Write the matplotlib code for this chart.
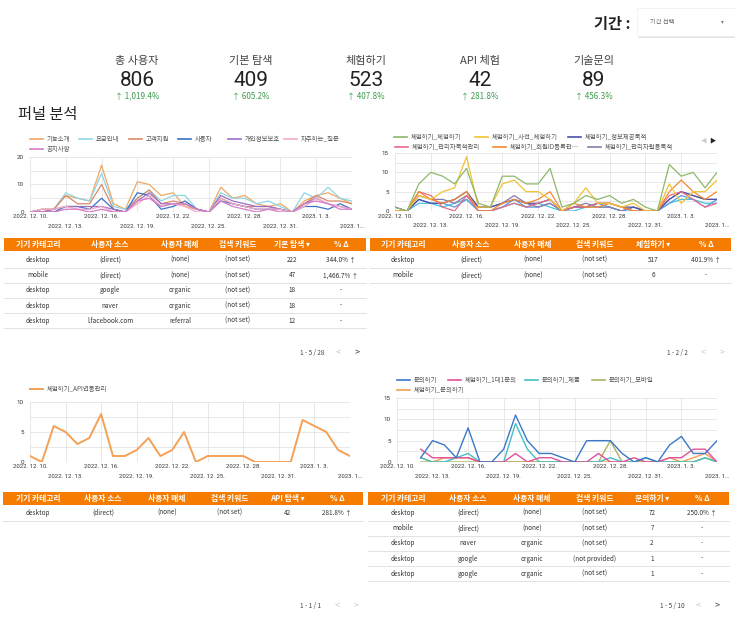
import numpy as np
import matplotlib
matplotlib.use('Agg')
import matplotlib.pyplot as plt
from matplotlib.patches import Rectangle
from matplotlib.lines import Line2D
import pandas as pd

plt.rcParams['font.family'] = ['Noto Sans CJK KR', 'DejaVu Sans']

W, H = 735, 622
nan = np.nan

# ---------------- data ----------------
dates = pd.date_range('2022-12-10', '2023-01-06', freq='D')
tick_idx = [0, 3, 6, 9, 12, 15, 18, 21, 24, 27]
tick_labels = ["2022. 12. 10.", "2022. 12. 13.", "2022. 12. 16.", "2022. 12. 19.",
               "2022. 12. 22.", "2022. 12. 25.", "2022. 12. 28.", "2022. 12. 31.",
               "2023. 1. 3.", "2023. 1…"]

kpi_titles = ["총 사용자", "기본 탐색", "체험하기", "API 체험", "기술문의"]
kpi_values = ["806", "409", "523", "42", "89"]
kpi_changes = ["1,019.4%", "605.2%", "407.8%", "281.8%", "456.3%"]

# top-left chart (기본 탐색 pages)
tl_names = ["기능소개", "요금안내", "고객지원", "사용자", "개인정보보호", "자주하는_질문", "공지사항"]
tl_기능소개 = [0, 0, 1, 6, 5, 4, 17, 3, 1, 11, 10, 6, 7, 2, 1, 0, 9, 5, 6, 3, 2, 3, 0, 4, 6, 7, 5, 3]
tl_요금안내 = [0, 1, 1, 7, 5, 4, 14, 2, 1, 5, 8, 4, 6, 6, 1, 0, 7, 5, 5, 3, 4, 2, 0, 7, 5, 9, 5, 4]
tl_고객지원 = [0, 1, 1, 6, 3, 3, 10, 1, 0, 5, 8, 3, 4, 3, 1, 0, 5, 3, 2, 2, 2, 1, 0, 3, 6, 4, 4, 3]
tl_사용자 = [0, 0, 0, 2, 2, 1, 5, 1, 0, 7, 6, 1, 2, 4, 1, 0, 4, 3, 2, 1, 1, 1, 0, 2, 2, 1, 3, 1]
tl_개인정보 = [0, 0, 1, 2, 2, 2, 2, 1, 0, 4, 7, 3, 3, 3, 1, 0, 6, 4, 3, 2, 2, 1, 0, 3, 5, 3, 2, 1]
tl_자주질문 = [0, 1, 1, 2, 1, 1, 2, 0, 0, 3, 6, 2, 3, 2, 0, 0, 5, 3, 2, 1, 1, 1, 0, 2, 5, 3, 2, 1]
tl_공지사항 = [0, 0, 0, 1, 1, 0, 1, 0, 0, 4, 5, 2, 3, 3, 1, 0, 4, 2, 1, 0, 1, 0, 0, 3, 4, 3, 1, 1]

# top-right chart (체험하기)
tr_names = ["체험하기_체험하기", "체험하기_사전_체험하기", "체험하기_정보제공목적",
            "체험하기_관리자목적관리", "체험하기_회원ID등록관…", "체험하기_관리자활용목적",
            "체험하기_기타1", "체험하기_기타2"]
tr_체험 = [1, 0, 7, 10, 9, 7, 11, 2, 1, 9, 9, 7, 7, 11, 1, 2, 4, 3, 4, 2, 3, 1, 0, 12, 9, 10, 6, 10]
tr_사전 = [0, 0, 4, 3, 5, 6, 14, 1, 1, 7, 8, 5, 5, 3, 0, 2, 6, 2, 2, 1, 2, 0, 0, 7, 2, 5, 5, 8]
tr_정보 = [1, 0, 3, 2, 2, 3, 5, 1, 1, 2, 3, 2, 2, 3, 0, 1, 1, 2, 2, 1, 1, 0, 0, 3, 5, 4, 3, 3]
tr_관리 = [0, 0, 5, 4, 1, 0, 4, 0, 0, 1, 2, 1, 2, 3, 0, 1, 1, 2, 2, 1, 0, 0, 0, 4, 5, 3, 1, 2]
tr_회원 = [0, 0, 5, 3, 2, 3, 5, 0, 0, 2, 3, 2, 3, 5, 0, 2, 1, 1, 2, 1, 0, 0, 0, 5, 8, 5, 3, 5]
tr_활용 = [0, 0, 4, 3, 3, 2, 4, 1, 1, 2, 4, 2, 1, 2, 0, 1, 2, 1, 1, 0, 1, 0, 0, 3, 5, 4, 3, 3]
tr_기타1 = [0, 0, 2, 2, 1, 2, 3, 0, 0, 1, 2, 1, 2, 1, 0, 0, 1, 1, 1, 0, 0, 0, 0, 2, 3, 3, 2, 2]
tr_기타2 = [0, 0, 3, 2, 2, 1, 3, 0, 0, 1, 3, 1, 1, 2, 0, 1, 1, 2, 1, 0, 1, 0, 0, 2, 4, 3, 1, 3]

# bottom-left chart (API)
bl_name = "체험하기_API연동관리"
bl_api = [1, 0, 6, 5, 3, 4, 8, 1, 1, 2, 4, 1, 2, 5, 0, 1, 1, 1, 1, 0, 0, 0, 0, 7, 6, 5, 2, 1]

# bottom-right chart (문의)
br_names = ["문의하기", "체험하기_1대1문의", "문의하기_제품", "문의하기_모바일", "체험하기_문의하기"]
br_문의 = [nan, nan, 1, 5, 4, 1, 8, 0, 0, 3, 11, 5, 2, 2, 1, 0, 5, 5, 5, 2, 0, 1, 0, 4, 6, 2, 2, 5]
br_1대1 = [nan, nan, 3, 1, 1, 1, 1, 0, 0, 0, 2, 0, 1, 1, 0, 0, 0, 2, 0, 0, 1, 0, 0, 1, 1, 3, 3, 0]
br_제품 = [nan, nan, 1, 0, 0, 1, 2, 0, 0, 0, 9, 3, 0, 0, 0, 0, 0, 0, 1, 0, 0, 1, 0, 0, 0, 0, 1, 0]
br_모바일 = [nan, nan, 0, 0, 0, 0, 0, 0, 0, 0, 0, 0, 0, 0, 0, 0, 0, 0, 5, 0, 0, 0, 0, 0, 0, 0, 1, 0]
br_체험문의 = [nan, nan, 1, 0, 1, 1, 1, 0, 0, 0, 0, 0, 0, 0, 0, 0, 0, 0, 0, 0, 0, 0, 0, 1, 0, 1, 2, 0]

# tables
tbl_cols = ["기기 카테고리", "사용자 소스", "사용자 매체", "검색 키워드"]
t1_metric = "기본 탐색 ▾"
t1_rows = [["desktop", "(direct)", "(none)", "(not set)", "222", "344.0% ↑"],
           ["mobile", "(direct)", "(none)", "(not set)", "47", "1,466.7% ↑"],
           ["desktop", "google", "organic", "(not set)", "18", "-"],
           ["desktop", "naver", "organic", "(not set)", "18", "-"],
           ["desktop", "l.facebook.com", "referral", "(not set)", "12", "-"]]
t2_metric = "체험하기 ▾"
t2_rows = [["desktop", "(direct)", "(none)", "(not set)", "517", "401.9% ↑"],
           ["mobile", "(direct)", "(none)", "(not set)", "6", "-"]]
t3_metric = "API 탐색 ▾"
t3_rows = [["desktop", "(direct)", "(none)", "(not set)", "42", "281.8% ↑"]]
t4_metric = "문의하기 ▾"
t4_rows = [["desktop", "(direct)", "(none)", "(not set)", "72", "250.0% ↑"],
           ["mobile", "(direct)", "(none)", "(not set)", "7", "-"],
           ["desktop", "naver", "organic", "(not set)", "2", "-"],
           ["desktop", "google", "organic", "(not provided)", "1", "-"],
           ["desktop", "google", "organic", "(not set)", "1", "-"]]

# ---------------- figure ----------------
fig = plt.figure(figsize=(W / 100, H / 100), dpi=100)
fig.patch.set_facecolor('white')


def fx(x):
    return x / W


def fy(y):
    return 1 - y / H


def ftext(x, y, s, **kw):
    kw.setdefault('va', 'center')
    fig.text(fx(x), fy(y), s, **kw)


def frect(x0, y0, x1, y1, **kw):
    fig.patches.append(Rectangle((fx(x0), fy(y1)), (x1 - x0) / W, (y1 - y0) / H,
                                 transform=fig.transFigure, **kw))


def fline(x0, y0, x1, y1, **kw):
    fig.add_artist(Line2D([fx(x0), fx(x1)], [fy(y0), fy(y1)], transform=fig.transFigure, **kw))


# header
ftext(630, 24, "기간 :", ha='right', fontsize=11, fontweight='bold', color='#222')
frect(638, 9, 736, 38, facecolor='#e4e4e4', edgecolor='none')
frect(637, 8, 735, 36, facecolor='white', edgecolor='#eeeeee', lw=0.5)
ftext(650, 22, "기간 선택", ha='left', fontsize=4.5, color='#666')
ftext(722, 22, "▾", ha='center', fontsize=4, color='#777')

kpi_x = [137, 251, 366, 480, 594]
for x, t, v, c in zip(kpi_x, kpi_titles, kpi_values, kpi_changes):
    ftext(x, 61, t, ha='center', fontsize=8, color='#444')
    ftext(x, 80, v, ha='center', fontsize=15, color='#222', family=['Roboto', 'DejaVu Sans'])
    ftext(x, 96, "↑ " + c, ha='center', fontsize=5.8, color='#3c9a4c')

ftext(18, 115, "퍼널 분석", ha='left', fontsize=11, color='#222')

x = np.arange(len(dates))


def make_chart(x0, x1, ytop, ybot, ymax, ylab, minor_step, series, lw):
    ax = fig.add_axes([fx(x0), fy(ybot), (x1 - x0) / W, (ybot - ytop) / H])
    for vals, c in series:
        ax.plot(x, vals, color=c, lw=lw, solid_joinstyle='round')
    ax.set_xlim(0, len(dates) - 1)
    ax.set_ylim(0, ymax)
    ax.set_yticks(ylab)
    ax.set_yticklabels([str(v) for v in ylab], fontsize=4.5, color='#333',
                       family=['Roboto', 'DejaVu Sans'])
    ax.set_yticks(np.arange(0, ymax + 0.01, minor_step), minor=True)
    ax.set_xticks(tick_idx)
    ax.set_xticklabels([])
    ax.tick_params(which='both', length=0, pad=4.5)
    ax.grid(True, which='both', color='#e4e4e4', lw=0.6)
    ax.set_axisbelow(True)
    for s in ax.spines.values():
        s.set_visible(False)
    for i, (t, lab) in enumerate(zip(tick_idx, tick_labels)):
        off = -3.6 if i % 2 == 0 else -10.1
        ax.annotate(lab, xy=(t, 0), xycoords=('data', 'axes fraction'),
                    xytext=(0, off), textcoords='offset points', ha='center', va='center',
                    fontsize=4.3, color='#333', family=['Roboto', 'DejaVu Sans'],
                    annotation_clip=False)
    return ax


def legend_item(lx, ly, color, label, lw=1.2):
    fline(lx, ly, lx + 13, ly, color=color, lw=lw)
    ftext(lx + 17, ly, label, ha='left', fontsize=4.6, color='#555')


# top-left chart
tl_colors = ['#f0a860', '#8ed6e6', '#d9886c', '#3b72c6', '#9b6fc6', '#f3a9c6', '#d67cc8']
tl_data = [tl_기능소개, tl_요금안내, tl_고객지원, tl_사용자, tl_개인정보, tl_자주질문, tl_공지사항]
make_chart(30, 352, 157, 212, 20, [0, 10, 20], 5, list(zip(tl_data, tl_colors)), 0.9)
tl_leg = [(30, 139), (79, 139), (129, 139), (178, 139), (228, 139), (284, 139), (30, 149)]
for (lx, ly), c, n in zip(tl_leg, tl_colors, tl_names):
    legend_item(lx, ly, c, n)

# top-right chart
tr_colors = ['#8db86a', '#f2c233', '#4b4fa6', '#ec6a85', '#f28a30', '#8a7aa8', '#45c3e0', '#5a9ce8']
tr_data = [tr_체험, tr_사전, tr_정보, tr_관리, tr_회원, tr_활용, tr_기타1, tr_기타2]
order = [6, 7, 5, 2, 3, 4, 1, 0]
make_chart(395, 717, 153, 211, 15, [0, 5, 10, 15], 2.5,
           [(tr_data[i], tr_colors[i]) for i in order], 0.9)
tr_leg = [(394, 137), (475, 137), (568, 137), (395, 147), (493, 147), (588, 147)]
for (lx, ly), c, n in zip(tr_leg, tr_colors[:6], tr_names[:6]):
    legend_item(lx, ly, c, n)
ftext(704, 140, "◀", ha='center', fontsize=4.5, color='#cccccc')
ftext(712, 140, "▶", ha='center', fontsize=4.5, color='#222222')

# bottom-left chart
make_chart(30, 350, 402, 462, 10, [0, 5, 10], 2.5, [(bl_api, '#f5a057')], 1.4)
legend_item(30, 389, '#f5a057', bl_name, lw=1.4)

# bottom-right chart
br_colors = ['#3c78c8', '#e0529a', '#45bfc3', '#a9b35e', '#f2a04e']
br_data = [br_문의, br_1대1, br_제품, br_모바일, br_체험문의]
make_chart(397, 717, 398, 462, 15, [0, 5, 10, 15], 2.5,
           [(br_data[i], br_colors[i]) for i in [4, 3, 2, 1, 0]], 1.0)
br_leg = [(397, 380), (448, 380), (525, 380), (592, 380), (397, 390)]
for (lx, ly), c, n in zip(br_leg, br_colors, br_names):
    legend_item(lx, ly, c, n)


# tables
def make_table(hx0, hx1, hy0, hy1, col_x, metric, rows, row_y0, pag, pag_x, pag_y, next_on):
    frect(hx0, hy0, hx1, hy1, facecolor='#f57c00', edgecolor='none')
    hc = (hy0 + hy1) / 2
    for cx, h in zip(col_x, tbl_cols + [metric, "% Δ"]):
        ftext(cx, hc, h, ha='center', fontsize=5.6, fontweight='bold', color='white')
    for i, r in enumerate(rows):
        ry = row_y0 + 15.2 * i
        for cx, v in zip(col_x, r):
            ftext(cx, ry, v, ha='center', fontsize=4.6, color='#333')
        fline(hx0, ry + 7.5, hx1, ry + 7.5, color='#e2e2e2', lw=0.7)
    ftext(pag_x, pag_y, pag, ha='center', fontsize=4.6, color='#444')
    ftext(pag_x + 26, pag_y, "<", ha='center', fontsize=6.5, color='#c8c8c8')
    ftext(pag_x + 45, pag_y, ">", ha='center', fontsize=6.5,
          color='#333333' if next_on else '#c8c8c8')


make_table(4, 366, 238, 251, [38, 110, 180, 238, 292, 341], t1_metric, t1_rows, 260,
           "1 - 5 / 28", 312, 353, True)
make_table(370, 731, 238, 251, [403, 471, 533, 595, 653, 706], t2_metric, t2_rows, 260,
           "1 - 2 / 2", 677, 353, False)
make_table(3, 363, 492, 505, [38, 103, 167, 230, 287, 337], t3_metric, t3_rows, 513,
           "1 - 1 / 1", 311, 606, False)
make_table(368, 729, 492, 505, [403, 468, 532, 595, 652, 702], t4_metric, t4_rows, 513,
           "1 - 5 / 10", 672, 606, True)

fig.savefig('out.png', dpi=100, facecolor='white')
